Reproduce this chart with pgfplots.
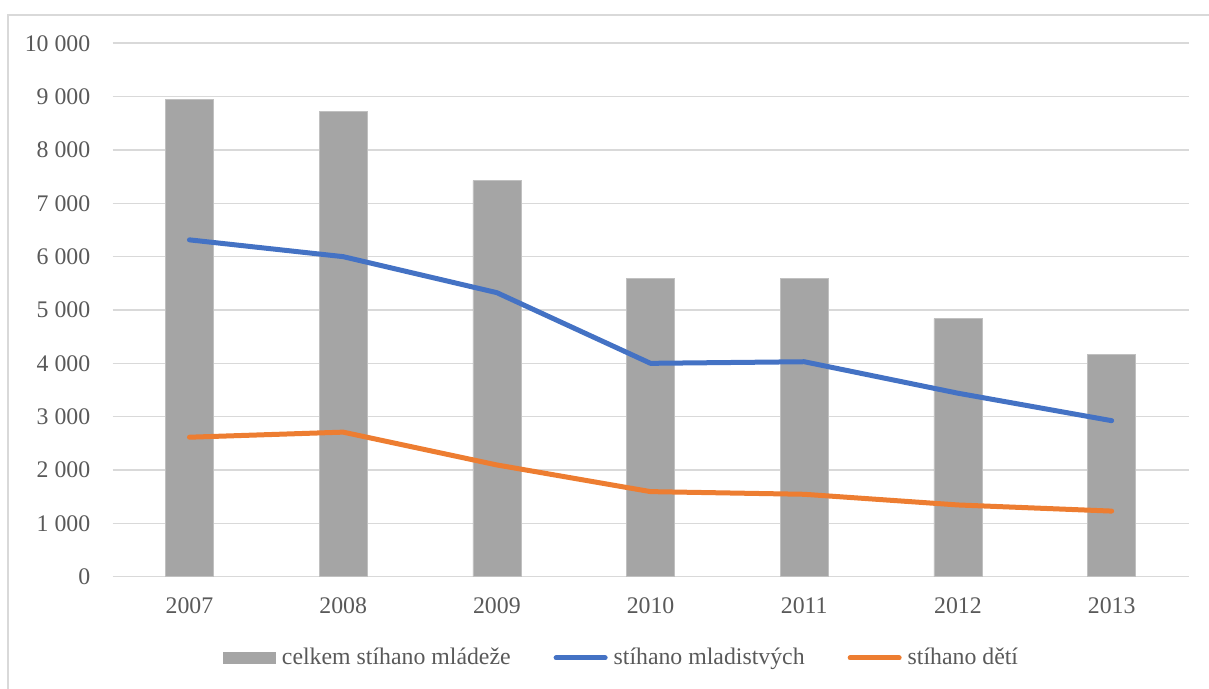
\documentclass[border=0pt]{standalone}
\usepackage{fontspec}
\setmainfont{Liberation Serif}
\usepackage{pgfplots}
\pgfplotsset{compat=1.18}
\definecolor{barGray}{HTML}{A5A5A5}
\definecolor{lineBlue}{HTML}{4472C4}
\definecolor{lineOrange}{HTML}{ED7D31}
\definecolor{gridGray}{HTML}{D9D9D9}
\definecolor{txtGray}{HTML}{595959}
\newcommand\cf{\fontsize{11.9bp}{14bp}\selectfont}
\begin{document}
\begin{tikzpicture}
\useasboundingbox (0,0) rectangle (604.5bp,344.5bp);
\draw[gridGray, line width=0.6bp] (4bp,-1bp) -- (4bp,337bp) -- (606bp,337bp);
\begin{axis}[
  at={(56.3bp,56.15bp)}, anchor=south west,
  scale only axis, width=537.95bp, height=266.7bp,
  xmin=-0.5, xmax=6.5, ymin=0, ymax=10000,
  scaled y ticks=false,
  xtick={0,1,2,3,4,5,6},
  xticklabels={2007,2008,2009,2010,2011,2012,2013},
  ytick={0,1000,2000,3000,4000,5000,6000,7000,8000,9000,10000},
  yticklabels={0,1 000,2 000,3 000,4 000,5 000,6 000,7 000,8 000,9 000,10 000},
  axis line style={draw=none},
  major tick length=0pt,
  ymajorgrids, grid style={gridGray, line width=0.8bp},
  tick label style={font=\cf, text=txtGray, inner sep=0pt},
  yticklabel style={anchor=east, xshift=-11bp},
  xticklabel style={anchor=north, yshift=-10.5bp},
  legend columns=3,
  legend style={at={(0.1026,-0.1524)}, anchor=west, draw=none, fill=none,
    font=\cf, text=txtGray, inner sep=0pt, nodes={inner sep=0pt},
    /tikz/every odd column/.style={column sep=3bp},
    /tikz/every even column/.style={column sep=21.5bp}},
]
\addplot[ybar, bar width=24bp, fill=barGray, draw=barGray!70!white, line width=0.3bp,
  legend image code/.code={\fill[barGray] (0bp,-2.75bp) rectangle (26bp,2.75bp);}]
  coordinates {(0,8950) (1,8730) (2,7425) (3,5595) (4,5590) (5,4840) (6,4170)};
\addlegendentry{celkem stíhano mládeže}
\addplot[lineBlue, line width=2.5bp, line cap=round, line join=round,
  legend image code/.code={\draw[lineBlue, line width=2.5bp, line cap=round] (1.25bp,0) -- (25.75bp,0);}]
  coordinates {(0,6315) (1,6000) (2,5325) (3,4000) (4,4030) (5,3440) (6,2925)};
\addlegendentry{stíhano mladistvých}
\addplot[lineOrange, line width=2.5bp, line cap=round, line join=round,
  legend image code/.code={\draw[lineOrange, line width=2.5bp, line cap=round] (1.25bp,0) -- (25.75bp,0);}]
  coordinates {(0,2615) (1,2710) (2,2095) (3,1595) (4,1545) (5,1345) (6,1230)};
\addlegendentry{stíhano dětí}
\end{axis}
\end{tikzpicture}
\end{document}
